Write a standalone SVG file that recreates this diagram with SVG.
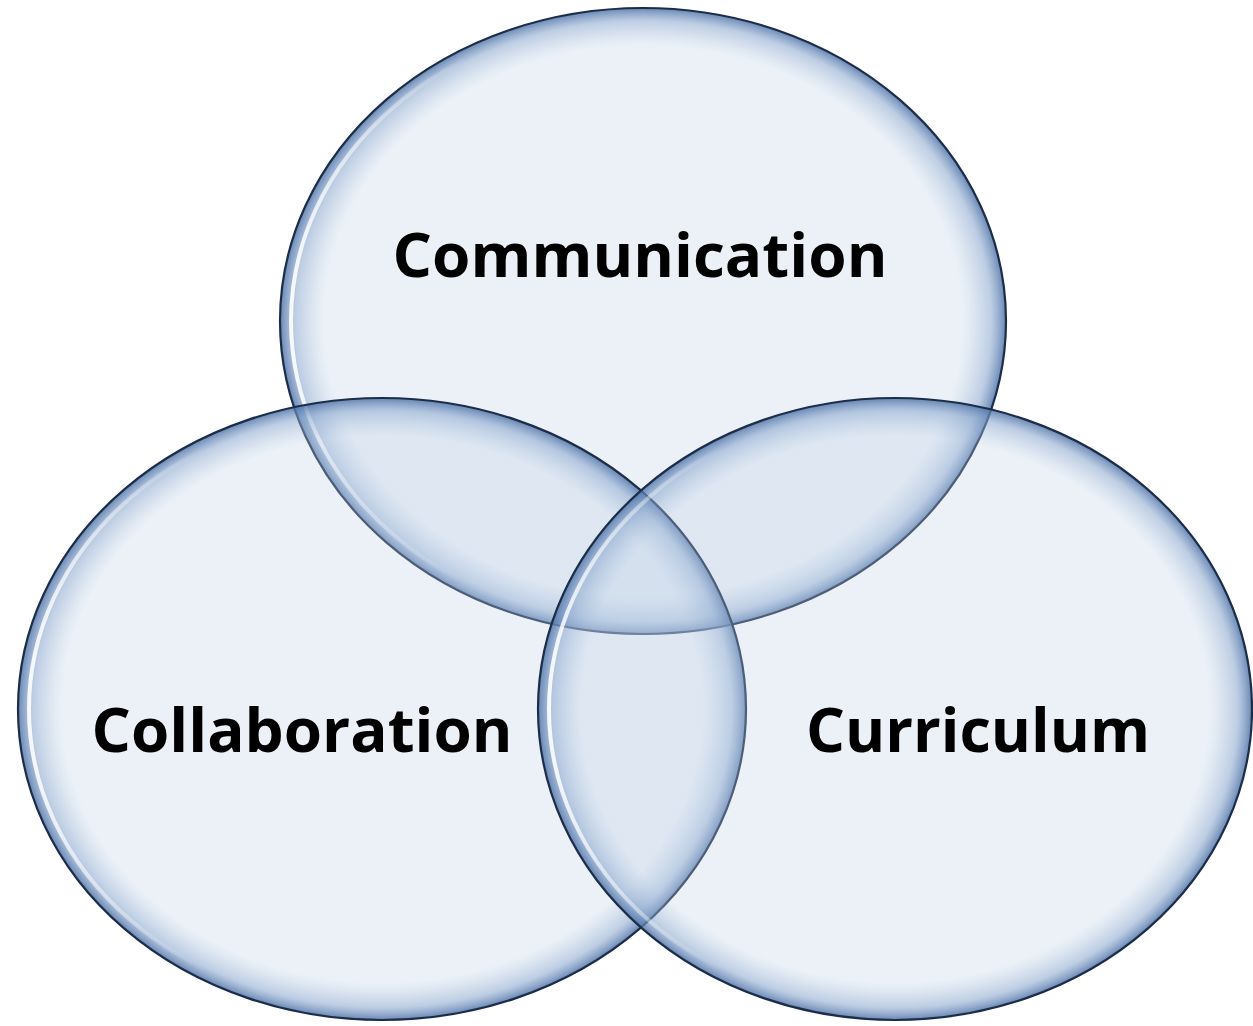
<svg xmlns="http://www.w3.org/2000/svg" width="1253" height="1026" viewBox="0 0 1253 1026">
<style>
.c{fill:url(#g);stroke:#1c2d48;stroke-width:2.2}
.h{fill:none;stroke:url(#hl);stroke-width:4}
.t{font-family:"Open Sans","Noto Sans",sans-serif;font-weight:700;font-size:60px;fill:#000;text-anchor:middle;font-variant-ligatures:none}
</style>
<defs>
<radialGradient id="g" cx="0.5" cy="0.5" r="0.5">
<stop offset="0" stop-color="#bed0e6" stop-opacity="0.3"/>
<stop offset="0.88" stop-color="#bed0e6" stop-opacity="0.3"/>
<stop offset="0.96" stop-color="#86a4cc" stop-opacity="0.55"/>
<stop offset="1" stop-color="#4f73a8" stop-opacity="0.85"/>
</radialGradient>
<linearGradient id="hl" x1="0" y1="0" x2="1" y2="0">
<stop offset="0" stop-color="#fff" stop-opacity="0.9"/>
<stop offset="0.25" stop-color="#fff" stop-opacity="0"/>
<stop offset="1" stop-color="#fff" stop-opacity="0"/>
</linearGradient>
</defs>
<rect width="1253" height="1026" fill="#fff"/>
<g id="communication">
<ellipse class="c" cx="643" cy="321" rx="363" ry="313"/>
<ellipse class="h" cx="643" cy="321" rx="352" ry="303"/>
<text class="t" x="640" y="277" textLength="495" lengthAdjust="spacingAndGlyphs">Communication</text>
</g>
<g id="collaboration">
<ellipse class="c" cx="382" cy="709" rx="364" ry="311"/>
<ellipse class="h" cx="382" cy="709" rx="353" ry="301"/>
<text class="t" x="302" y="752" textLength="421" lengthAdjust="spacingAndGlyphs">Collaboration</text>
</g>
<g id="curriculum">
<ellipse class="c" cx="895" cy="709" rx="357" ry="311"/>
<ellipse class="h" cx="895" cy="709" rx="346" ry="301"/>
<text class="t" x="978" y="752" textLength="344" lengthAdjust="spacingAndGlyphs">Curriculum</text>
</g>
<g id="connectors"/>
</svg>
